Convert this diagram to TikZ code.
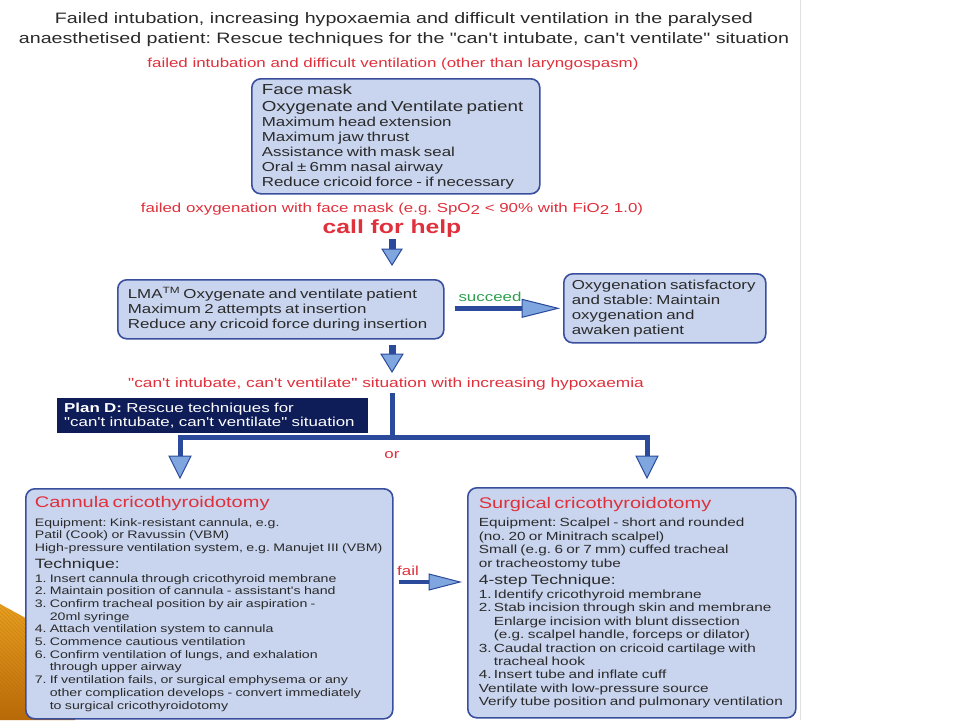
\documentclass[tikz,border=0pt]{standalone}
\usepackage{fontspec}
\setmainfont{Liberation Sans}[FakeStretch=1.3, Ligatures=TeXOff]
\usetikzlibrary{calc}
\definecolor{boxfill}{HTML}{C9D5EE}
\definecolor{boxline}{HTML}{3A4E9E}
\definecolor{shaftc}{HTML}{2C4A9C}
\definecolor{headc}{HTML}{7FA6DE}
\definecolor{redt}{HTML}{E0303C}
\definecolor{greent}{HTML}{2FA050}
\definecolor{navy}{HTML}{0E1C58}
\definecolor{txt}{HTML}{2A2A2A}
\definecolor{orA}{HTML}{E8A020}
\definecolor{orB}{HTML}{B86A08}
\newcommand{\fs}[2]{\fontsize{#1}{#2}\selectfont}
\newcommand{\bhead}[4]{%
  \coordinate (hb) at ($(#1)!#3!(#2)$);
  \filldraw[headst] (#1) -- ($(hb)!#4!90:(#1)$) -- ($(hb)!#4!-90:(#1)$) -- cycle;}
\newcommand{\blk}[5]{%
  \coordinate (hb) at ($(#2)!#3!(#1)$);
  \draw[draw=shaftc, line width=#5] (#1) -- (hb);
  \filldraw[headst] (#2) -- ($(hb)!#4!90:(#2)$) -- ($(hb)!#4!-90:(#2)$) -- cycle;}
\newcommand{\itm}[1]{\makebox[15pt][l]{#1}}
\frenchspacing
\hyphenpenalty=10000
\exhyphenpenalty=10000
\hbadness=10000
\hfuzz=20pt
\begin{document}
\begin{tikzpicture}[x=1pt,y=-1pt,
  box/.style={draw=boxline, line width=1.6pt, fill=boxfill, rounded corners=9pt, anchor=north west, align=left, text=txt, inner xsep=10pt, inner ysep=3pt},
  lbl/.style={inner sep=0pt, text=redt, font=\fs{13}{15}},
  headst/.style={fill=headc, draw=shaftc, line width=1pt, line join=miter},
  fork/.style={draw=shaftc, line width=5pt, line join=miter}]
\useasboundingbox (0,0) rectangle (960,720);
\fill[white] (0,0) rectangle (960,720);
\draw[black!12, line width=0.8pt] (800,0) -- (800,720);
% decoration
\shade[top color=orA, bottom color=orB] (0,604) -- (75,645) -- (75,720) -- (0,720) -- cycle;
\begin{scope}
\clip (0,604) -- (75,645) -- (75,720) -- (0,720) -- cycle;
\foreach \i in {0,4,...,240} \draw[orB, opacity=0.35, line width=0.7pt] (\i-120,600) -- (\i,720);
\end{scope}
% title
\node[align=center, font=\fs{15.1}{20}, text=txt, inner sep=0pt] (title) at (404,30)
 {Failed intubation, increasing hypoxaemia and difficult ventilation in the paralysed\\
  anaesthetised patient: Rescue techniques for the "can't intubate, can't ventilate" situation};
\node[lbl] (fi) at (393,64) {failed intubation and difficult ventilation (other than laryngospasm)};
% face mask
\node[box, text width=268pt, minimum height=115pt] (fm) at (251,78)
 {\fs{14.5}{17}Face mask\par Oxygenate and Ventilate patient\par
  \fs{13}{15}Maximum head extension\par Maximum jaw thrust\par Assistance with mask seal\par
  Oral ± 6mm nasal airway\par Reduce cricoid force - if necessary\par};
\node[lbl] (fo) at (392,209) {failed oxygenation with face mask (e.g. SpO\raisebox{-2pt}{2} < 90\% with FiO\raisebox{-2pt}{2} 1.0)};
\node[lbl, font=\bfseries\fs{19}{21}] (cfh) at (392,229) {call for help};
% LMA
\node[box, text width=306pt, minimum height=59pt] (lma) at (117,279)
 {\fs{13}{15}LMA\textsuperscript{TM} Oxygenate and ventilate patient\par
  Maximum 2 attempts at insertion\par Reduce any cricoid force during insertion\par};
\node[box, text width=186pt, minimum height=69pt, inner xsep=8pt] (oxy) at (563,273)
 {\fs{13}{15}\mbox{Oxygenation satisfactory}\par and stable: Maintain\par oxygenation and\par awaken patient\par};
\coordinate (a1s) at ($(cfh.south)+(0,1)$);
\coordinate (a1e) at ($(cfh |- lma.north)+(0,-14)$);
\blk{a1s}{a1e}{16pt}{10pt}{7pt}
\coordinate (s1) at ($(lma.east)+(10,-1)$);
\coordinate (s2) at ($(s1 -| oxy.west)+(-5,0)$);
\blk{s1}{s2}{36pt}{9pt}{5pt}
\node[lbl, text=greent] (suc) at (490,297) {succeed};
\coordinate (d1s) at ($(cfh |- lma.south)+(0,5)$);
\coordinate (d1e) at (392,372);
\blk{d1s}{d1e}{18pt}{11pt}{7pt}
\node[lbl, font=\fs{13.3}{15}] (cant) at (386,384) {"can't intubate, can't ventilate" situation with increasing hypoxaemia};
% plan D
\node[fill=navy, anchor=north west, minimum width=311pt, minimum height=35pt, text width=297pt,
  align=left, text=white, font=\fs{13}{14}, inner xsep=7pt] (pland) at (57,398)
 {\textbf{Plan D:} Rescue techniques for\\"can't intubate, can't ventilate" situation};
% fork
\coordinate (v0) at ($(cfh |- cant.south)+(0,3)$);
\coordinate (j) at (392,437);
\coordinate (jl) at (180,437);
\coordinate (jr) at (647,437);
\coordinate (tl) at (180,478);
\coordinate (tr) at (647,478);
\draw[fork] (v0) -- (j);
\draw[fork] ($(tl)!22pt!(jl)$) -- (jl) -- (jr) -- ($(tr)!22pt!(jr)$);
\bhead{tl}{jl}{22pt}{11pt}
\bhead{tr}{jr}{22pt}{11pt}
\node[lbl] (or) at (392,455) {or};
% cannula
\node[box, text width=349pt, minimum height=230pt, inner xsep=9pt, inner ysep=2pt] (can) at (25,488)
 {{\fs{15.4}{18}\color{redt}Cannula cricothyroidotomy\par}
  \vspace{6pt}
  \fs{10.9}{12.7}Equipment: Kink-resistant cannula, e.g.\par
  Patil (Cook) or Ravussin (VBM)\par
  \mbox{High-pressure ventilation system, e.g. Manujet III (VBM)}\par
  {\fs{13.5}{16.5}Technique:\par}
  \vspace{1.3pt}
  \fs{10.9}{12.7}\itm{1.}Insert cannula through cricothyroid membrane\par
  \itm{2.}Maintain position of cannula - assistant's hand\par
  \itm{3.}Confirm tracheal position by air aspiration -\par
  \itm{}20ml syringe\par
  \itm{4.}Attach ventilation system to cannula\par
  \itm{5.}Commence cautious ventilation\par
  \itm{6.}Confirm ventilation of lungs, and exhalation\par
  \itm{}through upper airway\par
  \itm{7.}If ventilation fails, or surgical emphysema or any\par
  \itm{}other complication develops - convert immediately\par
  \itm{}to surgical cricothyroidotomy\par};
% surgical
\node[box, text width=306pt, minimum height=230pt, inner xsep=11pt, inner ysep=2pt] (sur) at (467,487)
 {{\fs{15.4}{18}\color{redt}Surgical cricothyroidotomy\par}
  \vspace{5pt}
  \fs{11.8}{13.4}Equipment: Scalpel - short and rounded\par
  (no. 20 or Minitrach scalpel)\par
  Small (e.g. 6 or 7 mm) cuffed tracheal\par
  or tracheostomy tube\par
  {\fs{13.5}{17.5}4-step Technique:\par}
  \vspace{0.5pt}
  \fs{11.8}{13.4}\itm{1.}Identify cricothyroid membrane\par
  \itm{2.}Stab incision through skin and membrane\par
  \itm{}Enlarge incision with blunt dissection\par
  \itm{}(e.g. scalpel handle, forceps or dilator)\par
  \itm{3.}Caudal traction on cricoid cartilage with\par
  \itm{}tracheal hook\par
  \itm{4.}Insert tube and inflate cuff\par
  Ventilate with low-pressure source\par
  Verify tube position and pulmonary ventilation\par};
\coordinate (f1) at ($(can.north east)+(5,94)$);
\coordinate (f2) at ($(f1 -| sur.west)+(-7,0)$);
\blk{f1}{f2}{31pt}{8pt}{4pt}
\node[lbl] (fail) at (408,571) {fail};
\end{tikzpicture}
\end{document}
